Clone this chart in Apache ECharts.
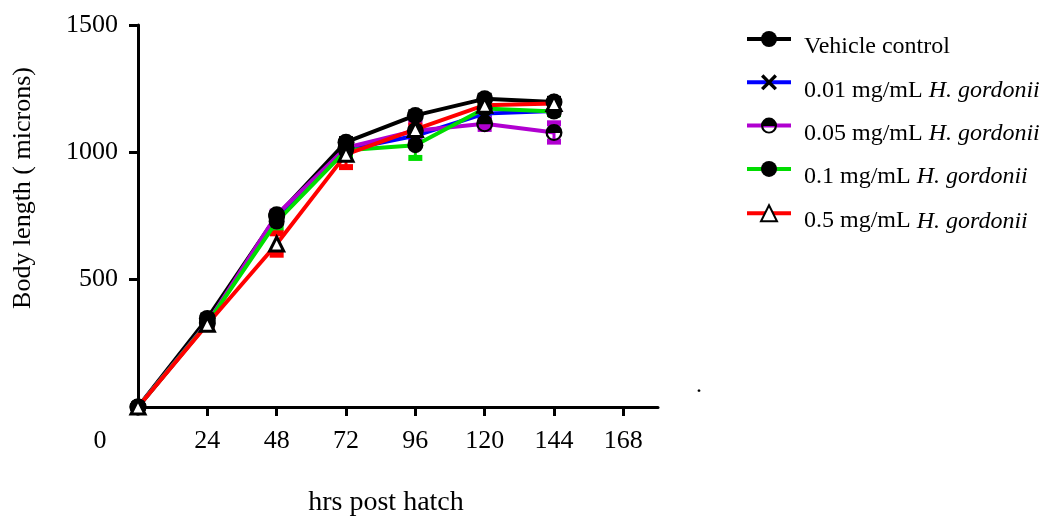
<!DOCTYPE html>
<html>
<head>
<meta charset="utf-8">
<script src="https://cdn.jsdelivr.net/npm/echarts@6/dist/echarts.min.js"></script>
<style>html,body{margin:0;padding:0;background:#fff;}#c{width:1046px;height:517px;}</style>
</head>
<body>
<div id="c"></div>
<script>
// ---- data ----
const hours = [0, 24, 48, 72, 96, 120, 144];
const seriesNames = ['Vehicle control', '0.01 mg/mL H. gordonii', '0.05 mg/mL H. gordonii', '0.1 mg/mL H. gordonii', '0.5 mg/mL H. gordonii'];
const vehicle = [0, 348, 750, 1040, 1145, 1210, 1198];
const hg001 = [0, 330, 740, 1010, 1065, 1152, 1162];
const hg005 = [0, 330, 755, 1018, 1085, 1112, 1078];
const hg01 = [0, 328, 728, 1008, 1028, 1172, 1160];
const hg05 = [0, 325, 640, 992, 1090, 1185, 1192];
// error (SD)
const errVehicle = [0, 10, 12, 12, 12, 12, 12];
const err001 = [0, 10, 12, 12, 12, 12, 10];
const err005 = [0, 10, 12, 15, 33, 20, 36];
const err01 = [0, 10, 25, 20, 50, 15, 10];
const err05 = [0, 10, 42, 50, 15, 15, 10];
const xTicks = [24, 48, 72, 96, 120, 144, 168];
const xLabels = [0, 24, 48, 72, 96, 120, 144, 168];
const yTicks = [500, 1000, 1500];

const values = [vehicle, hg001, hg005, hg01, hg05];
const errors = [errVehicle, err001, err005, err01, err05];
const colors = ['#000000', '#0000ff', '#b000d0', '#00dd00', '#ff0000'];

const symX = 'path://M3,0 L10,7 L17,0 L20,3 L13,10 L20,17 L17,20 L10,13 L3,20 L0,17 L7,10 L0,3 Z';
const symHalf = 'path://M0,10 A10,10 0 1,1 20,10 A10,10 0 1,1 0,10 Z M2.8,10.5 A7.2,7.2 0 0,0 17.2,10.5 L2.8,10.5 Z';
const symbols = ['circle', symX, symHalf, 'circle', 'triangle'];
const symSizes = [17, 14, 17, 16, 14];

const FONT = 'Liberation Serif';
const chart = echarts.init(document.getElementById('c'), null, {renderer: 'canvas'});

const errData = [];
values.forEach((arr, si) => {
  arr.forEach((v, i) => {
    if (i > 0) errData.push([hours[i], v - errors[si][i], v + errors[si][i], si]);
  });
});

const series = values.map((arr, si) => ({
  name: seriesNames[si],
  type: 'line',
  data: hours.map((h, i) => [h, arr[i]]),
  symbol: symbols[si],
  symbolSize: symSizes[si],
  z: 3,
  lineStyle: {color: colors[si], width: 4},
  itemStyle: si === 4 ? {color: '#ffffff', borderColor: '#000', borderWidth: 3} : {color: '#000000', borderWidth: 0},
  emphasis: {disabled: true},
  animation: false
}));

series.unshift({
  name: 'err',
  type: 'custom',
  z: 2,
  data: errData,
  encode: {x: 0, y: [1, 2]},
  animation: false,
  renderItem: function (params, api) {
    const x = api.value(0), lo = api.value(1), hi = api.value(2);
    const c = colors[api.value(3)];
    const pLo = api.coord([x, lo]), pHi = api.coord([x, hi]);
    return {
      type: 'group',
      children: [
        {type: 'line', shape: {x1: pLo[0], y1: pLo[1], x2: pHi[0], y2: pHi[1]}, style: {stroke: c, lineWidth: 3}},
        {type: 'rect', shape: {x: pLo[0] - 7, y: pLo[1] - 3, width: 14, height: 6}, style: {fill: c}},
        {type: 'rect', shape: {x: pHi[0] - 7, y: pHi[1] - 3, width: 14, height: 6}, style: {fill: c}}
      ]
    };
  }
});

const legendFmt = function (name) {
  const k = name.indexOf('H. gordonii');
  if (k < 0) return name;
  return name.slice(0, k) + '{i|H. gordonii}';
};

chart.setOption({
  backgroundColor: '#ffffff',
  animation: false,
  grid: {left: 138, right: 388, top: 25, bottom: 110, containLabel: false, outerBoundsMode: 'none'},
  legend: {
    orient: 'vertical',
    left: 740,
    top: 26,
    itemWidth: 44,
    itemHeight: 20,
    itemGap: 15.3,
    data: seriesNames,
    formatter: legendFmt,
    lineStyle: {width: 4},
    textStyle: {fontFamily: FONT, fontSize: 24, color: '#000', padding: [16, 0, 0, 8],
      rich: {i: {fontFamily: FONT, fontSize: 24, fontStyle: 'italic', color: '#000'}}}
  },
  xAxis: {
    type: 'value', min: 0, max: 180,
    name: 'hrs post hatch', nameLocation: 'middle', nameGap: 82,
    nameTextStyle: {fontFamily: FONT, fontSize: 28, color: '#000', padding: [0, 24, 0, 0]},
    axisLine: {show: true, lineStyle: {color: '#000', width: 3}},
    axisTick: {show: true, length: 9, lineStyle: {color: '#000', width: 3}, customValues: xTicks},
    axisLabel: {
      customValues: xLabels, margin: 21,
      fontFamily: FONT, fontSize: 26, color: '#000',
      formatter: v => v === 0 ? '{z|0}' : String(v),
      rich: {z: {fontFamily: FONT, fontSize: 26, color: '#000', padding: [0, 76, 0, 0]}}
    },
    splitLine: {show: false}
  },
  yAxis: {
    type: 'value', min: 0, max: 1500,
    name: 'Body length ( microns)', nameLocation: 'middle', nameGap: 102, nameRotate: 90,
    nameTextStyle: {fontFamily: FONT, fontSize: 26, color: '#000', padding: [0, 0, 0, 56]},
    axisLine: {show: true, lineStyle: {color: '#000', width: 3}},
    axisTick: {show: true, length: 9, lineStyle: {color: '#000', width: 3}, customValues: yTicks},
    axisLabel: {customValues: yTicks, margin: 20, fontFamily: FONT, fontSize: 26, color: '#000', formatter: v => String(v)},
    splitLine: {show: false}
  },
  graphic: [{type: 'text', left: 696, top: 374, style: {text: '.', fontFamily: FONT, fontSize: 24, fill: '#000'}}],
  series: series
});
</script>
</body>
</html>
